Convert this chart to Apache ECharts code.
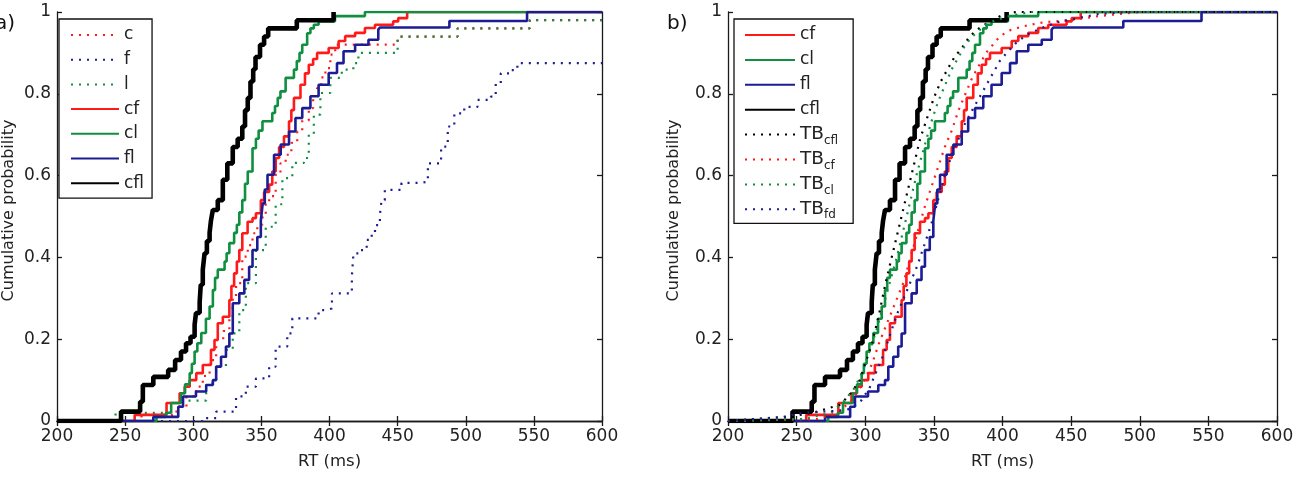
<!DOCTYPE html>
<html><head><meta charset="utf-8">
<script src="https://cdn.jsdelivr.net/npm/echarts@6/dist/echarts.min.js"></script>
<style>html,body{margin:0;padding:0;background:#fff}#c{width:1297px;height:477px}</style>
</head><body><div id="c"></div>
<script>
// ---- axis ticks ----
const xTicks = [200, 250, 300, 350, 400, 450, 500, 550, 600];
const yTicks = [0, 0.2, 0.4, 0.6, 0.8, 1];
const xName = 'RT (ms)';
const yName = 'Cumulative probability';
const panelLabels = ['a)', 'b)'];

// ---- empirical CDFs (RT ms, cumulative probability) ----
const cfl = [[200,0],[247,0.023],[261,0.047],[263,0.088],[270.7,0.108],[281.6,0.125],[286.7,0.149],[291,0.17],[294.7,0.19],[298,0.206],[301,0.235],[302,0.264],[304.7,0.29],[305.5,0.333],[307,0.37],[308.3,0.41],[310,0.44],[312,0.46],[313,0.49],[314.4,0.516],[318,0.54],[321.7,0.59],[325,0.63],[329,0.67],[332.6,0.69],[336,0.72],[338,0.76],[340,0.79],[342,0.83],[344,0.86],[345.7,0.89],[349,0.92],[352,0.94],[355,0.96],[376,0.98],[403,1]];
const cl = [[200,0],[273,0.01],[280,0.02],[283.8,0.044],[291,0.068],[294,0.09],[297.4,0.117],[299,0.14],[301,0.17],[303,0.19],[305.9,0.215],[309.3,0.25],[312,0.28],[314.4,0.32],[316,0.35],[318,0.37],[323,0.39],[324.5,0.41],[326.5,0.435],[330,0.46],[332,0.48],[333.8,0.51],[336,0.54],[338,0.58],[340,0.61],[343.5,0.667],[346,0.69],[348,0.71],[350.8,0.733],[358,0.753],[360,0.77],[362,0.79],[364,0.806],[367.8,0.839],[373.9,0.859],[376,0.88],[378,0.9],[380,0.92],[383.6,0.948],[386,0.96],[388.5,0.969],[392,0.977],[404,0.99],[426,1],[600,1]];
const cf = [[200,0],[257,0.015],[280.4,0.044],[290,0.068],[293.7,0.084],[297.4,0.1],[302.2,0.117],[307,0.137],[313,0.174],[315.6,0.198],[318,0.239],[321.7,0.255],[326.5,0.296],[328,0.33],[330,0.361],[332,0.39],[333.8,0.418],[336,0.459],[339.9,0.487],[343.5,0.496],[346,0.508],[349.6,0.54],[352,0.56],[355.7,0.578],[358,0.61],[360.5,0.643],[363,0.67],[366.6,0.696],[370.3,0.733],[372,0.76],[373.9,0.79],[378.7,0.822],[382,0.85],[384.8,0.871],[388,0.885],[390.9,0.9],[399.4,0.912],[406.7,0.929],[411.5,0.941],[418.8,0.949],[426,0.961],[433.4,0.969],[446.7,0.977],[450.4,0.985],[457,1],[600,1]];
const fl = [[200,0],[270.7,0.01],[289,0.035],[292.5,0.06],[302,0.072],[309.5,0.088],[314.4,0.1],[316.8,0.133],[320.4,0.157],[324,0.182],[326.5,0.214],[329,0.288],[333.8,0.312],[337.5,0.345],[341,0.377],[343.5,0.418],[347,0.45],[349.6,0.49],[351,0.532],[352.5,0.566],[354.5,0.602],[359.3,0.651],[364.2,0.676],[370.3,0.708],[375,0.741],[380,0.765],[386,0.794],[392,0.822],[399.4,0.851],[405.5,0.875],[410.3,0.904],[418.8,0.92],[428.6,0.932],[435.8,0.957],[437,0.962],[488,0.978],[545,1],[600,1]];
const c = [[200,0],[262,0.015],[287.7,0.035],[295,0.06],[302,0.084],[307,0.11],[312,0.149],[316.8,0.198],[322,0.22],[326.5,0.255],[329,0.3],[331.4,0.337],[336,0.402],[340,0.43],[343.5,0.459],[347,0.48],[350.8,0.5],[353.2,0.529],[355.7,0.55],[360.5,0.602],[364,0.63],[367.8,0.651],[372,0.68],[376.3,0.708],[380,0.735],[384.8,0.765],[388,0.79],[390.9,0.814],[394,0.84],[397,0.863],[400.6,0.896],[404.2,0.92],[450,0.94],[494,0.96],[547,0.98],[600,0.98]];
const f = [[200,0],[307,0.007],[316.8,0.023],[331.4,0.06],[338.6,0.084],[346,0.104],[355.7,0.133],[360.5,0.182],[369,0.214],[372.7,0.251],[392,0.271],[397,0.275],[401.8,0.312],[416.4,0.353],[417.6,0.41],[422.4,0.418],[427.3,0.443],[431,0.459],[433.4,0.479],[437,0.504],[438.2,0.54],[440.6,0.565],[452.8,0.582],[466.1,0.585],[472.2,0.63],[481.9,0.671],[486.8,0.72],[491.6,0.752],[498.9,0.768],[508.6,0.785],[518.4,0.793],[522,0.826],[525.7,0.85],[533,0.858],[537.9,0.875],[600,0.875]];
const l = [[200,0],[243,0.02],[290,0.05],[309.5,0.092],[316.8,0.133],[324,0.174],[329,0.214],[333.8,0.271],[338.6,0.337],[346,0.418],[353.2,0.475],[360.5,0.53],[365.4,0.594],[372.7,0.631],[381.2,0.643],[384.8,0.7],[388.5,0.749],[393.3,0.802],[400.6,0.839],[409,0.859],[417.5,0.875],[421.2,0.9],[450,0.94],[494,0.96],[547,0.98],[600,0.98]];

// ---- model predictions (panel b) ----
const TBcfl = [[200,0],[244,0.01],[262,0.02],[282,0.04],[290,0.07],[296,0.1],[300,0.14],[305,0.19],[310,0.26],[315,0.34],[320,0.41],[325,0.48],[330,0.55],[335,0.62],[340,0.69],[345,0.74],[350,0.79],[355,0.83],[360,0.86],[365,0.89],[370,0.91],[375,0.935],[380,0.953],[385,0.965],[390,0.975],[395,0.985],[402,0.995],[410,1],[600,1]];
const TBcf = [[200,0],[265,0.005],[280,0.02],[290,0.05],[298,0.09],[305,0.14],[310,0.19],[316,0.24],[322,0.29],[328,0.34],[333,0.40],[338,0.46],[343,0.52],[348,0.57],[353,0.62],[358,0.67],[363,0.71],[368,0.76],[373,0.80],[378,0.84],[383,0.87],[388,0.90],[393,0.92],[398,0.94],[405,0.955],[415,0.965],[430,0.975],[450,0.98],[470,0.99],[500,1],[600,1]];
const TBcl = [[200,0],[255,0.005],[275,0.02],[285,0.05],[292,0.08],[298,0.12],[303,0.17],[308,0.22],[313,0.28],[318,0.34],[323,0.40],[328,0.47],[333,0.54],[338,0.61],[343,0.67],[348,0.73],[353,0.78],[358,0.82],[363,0.86],[368,0.89],[373,0.92],[378,0.94],[383,0.955],[388,0.97],[395,0.98],[405,0.99],[420,1],[600,1]];
const TBfd = [[200,0],[240,0.01],[255,0.02],[280,0.025],[290,0.03],[297,0.05],[303,0.08],[308,0.12],[313,0.16],[318,0.21],[323,0.26],[328,0.30],[333,0.34],[338,0.38],[343,0.43],[348,0.48],[353,0.54],[358,0.60],[363,0.65],[368,0.69],[373,0.73],[378,0.76],[383,0.79],[388,0.82],[393,0.85],[398,0.88],[403,0.90],[410,0.925],[418,0.945],[428,0.96],[440,0.975],[455,0.985],[470,0.995],[490,1],[600,1]];

const RED = '#ff1a1a', GREEN = '#0f8f3f', BLUE = '#1c1c94', BLACK = '#000000';
const FONT = 'DejaVu Sans';
const DOT = [2, 6];

function mk(name, data, color, width, dotted, gi, step) {
  return {
    name, type: 'line', data, xAxisIndex: gi * 2, yAxisIndex: gi * 2,
    step: step ? 'end' : false, showSymbol: false, symbol: 'none', animation: false,
    lineStyle: { color, width, type: dotted ? DOT : 'solid', cap: 'butt' },
    itemStyle: { color }, emphasis: { disabled: true }
  };
}

const grids = [
  { left: 53, top: 12, width: 549, height: 409 },
  { left: 728, top: 12, width: 549, height: 409 }
];
const axisLine = { show: true, lineStyle: { color: '#1a1a1a', width: 1.3 } };
const tick = { show: true, inside: true, length: 5, lineStyle: { color: '#1a1a1a', width: 1.3 } };
const xAxes = [], yAxes = [];
[0, 1].forEach(gi => {
  xAxes.push({ type: 'value', gridIndex: gi, min: xTicks[0], max: xTicks[xTicks.length - 1], interval: xTicks[1] - xTicks[0],
    position: 'bottom', axisLine, axisTick: tick, splitLine: { show: false },
    axisLabel: { color: '#222', fontFamily: FONT, fontSize: 17, margin: 7 },
    name: xName, nameLocation: 'middle', nameGap: 32, nameTextStyle: { color: '#222', fontFamily: FONT, fontSize: 16.5 } });
  xAxes.push({ type: 'value', gridIndex: gi, min: xTicks[0], max: xTicks[xTicks.length - 1], interval: xTicks[1] - xTicks[0],
    position: 'top', axisLine, axisTick: tick, splitLine: { show: false }, axisLabel: { show: false } });
  yAxes.push({ type: 'value', gridIndex: gi, min: yTicks[0], max: yTicks[yTicks.length - 1], interval: yTicks[1] - yTicks[0],
    position: 'left', axisLine, axisTick: tick, splitLine: { show: false },
    axisLabel: { color: '#222', fontFamily: FONT, fontSize: 17, margin: 6, formatter: v => (v === 0 || v === 1) ? String(v) : v.toFixed(1) },
    name: yName, nameLocation: 'middle', nameGap: gi === 0 ? 40 : 46, nameRotate: 90,
    nameTextStyle: { color: '#222', fontFamily: FONT, fontSize: 16, padding: [0, 0, 0, 12] } });
  yAxes.push({ type: 'value', gridIndex: gi, min: yTicks[0], max: yTicks[yTicks.length - 1], interval: yTicks[1] - yTicks[0],
    position: 'right', axisLine, axisTick: tick, splitLine: { show: false }, axisLabel: { show: false } });
});

const series = [
  mk('c', c, RED, 2.2, true, 0, true),
  mk('f', f, BLUE, 2.2, true, 0, true),
  mk('l', l, GREEN, 2.2, true, 0, true),
  mk('cf', cf, RED, 2.6, false, 0, true),
  mk('cl', cl, GREEN, 2.6, false, 0, true),
  mk('fl', fl, BLUE, 2.6, false, 0, true),
  mk('cfl', cfl, BLACK, 4.6, false, 0, true),
  mk('cf', cf, RED, 2.6, false, 1, true),
  mk('cl', cl, GREEN, 2.6, false, 1, true),
  mk('fl', fl, BLUE, 2.6, false, 1, true),
  mk('cfl', cfl, BLACK, 4.6, false, 1, true),
  mk('TBcfl', TBcfl, BLACK, 2.2, true, 1, false),
  mk('TBcf', TBcf, RED, 2.2, true, 1, false),
  mk('TBcl', TBcl, GREEN, 2.2, true, 1, false),
  mk('TBfd', TBfd, BLUE, 2.2, true, 1, false)
];

const legendBase = {
  orient: 'vertical', itemWidth: 48, itemHeight: 14, itemGap: 1,
  backgroundColor: '#fff', borderColor: '#111', borderWidth: 1.3, borderRadius: 0,
  selectedMode: false,
  itemStyle: { opacity: 0 },
  textStyle: { color: '#222', fontFamily: FONT, fontSize: 17, lineHeight: 24,
    rich: { n: { fontFamily: FONT, fontSize: 17, color: '#222', lineHeight: 24, verticalAlign: 'middle' },
            t: { fontFamily: FONT, fontSize: 18.5, color: '#222', lineHeight: 24, verticalAlign: 'middle' },
            s: { fontFamily: FONT, fontSize: 12, color: '#222', lineHeight: 12, verticalAlign: 'bottom' } } },
  formatter: name => name.startsWith('TB') ? '{t|TB}{s|' + name.slice(2) + '}' : '{n|' + name + '}'
};

const option = {
  backgroundColor: '#fff',
  animation: false,
  grid: grids,
  xAxis: xAxes,
  yAxis: yAxes,
  legend: [
    Object.assign({}, legendBase, { left: 59, top: 19, padding: [4, 8, 3, 11], itemGap: 0.7,
      data: ['c', 'f', 'l', 'cf', 'cl', 'fl', 'cfl'] }),
    Object.assign({}, legendBase, { left: 734, top: 19, padding: [4, 15, 2, 10], itemWidth: 50, itemGap: 0.9,
      data: ['cf', 'cl', 'fl', 'cfl', 'TBcfl', 'TBcf', 'TBcl', 'TBfd'] })
  ],
  graphic: [
    { type: 'text', left: -5, top: 14, style: { text: panelLabels[0], font: '20px "DejaVu Sans"', fill: '#111' } },
    { type: 'text', left: 667, top: 14, style: { text: panelLabels[1], font: '20px "DejaVu Sans"', fill: '#111' } }
  ],
  series
};
const chart = echarts.init(document.getElementById('c'), null, { renderer: 'canvas' });
chart.setOption(option);
</script>
</body></html>
